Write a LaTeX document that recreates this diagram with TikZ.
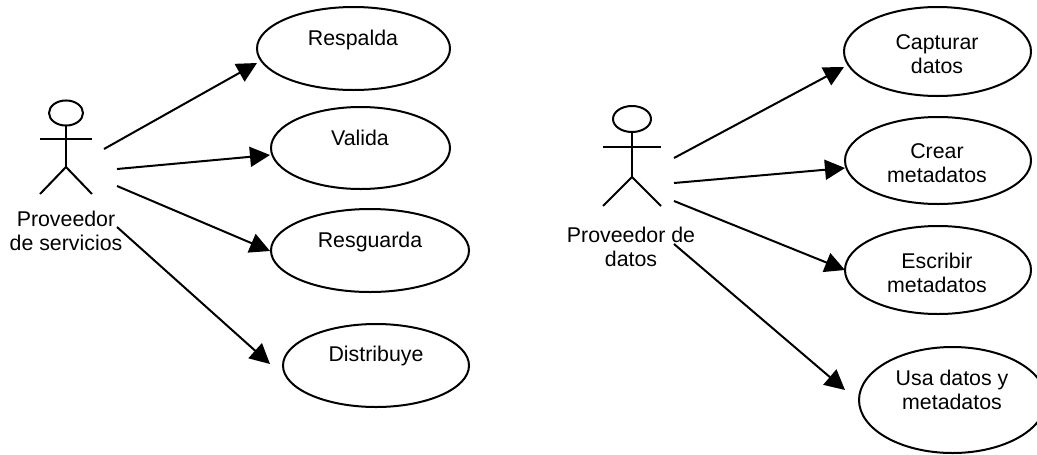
\documentclass[tikz,border=0pt]{standalone}
\usepackage{fontspec}
\setmainfont{Liberation Sans}
\usetikzlibrary{arrows.meta,shapes.geometric}
\tikzset{
 uc/.style={draw,ellipse,line width=1.5pt,inner sep=0pt},
 lab/.style={align=center,font=\fontsize{16}{18}\selectfont,inner sep=0pt},
 arr/.style={line width=1.5pt,-{Triangle[length=15pt,width=15pt]}},
 stick/.style={line width=1.5pt}
}
\newcommand{\actor}[9]{% cx, head cy, rx(pt), ry(pt), neck, arm y, hip, feet, half-span
 \draw[stick] (#1,-#2) circle[x radius=#3pt,y radius=#4pt];
 \draw[stick] (#1,-#5) -- (#1,-#7);
 \draw[stick] ({#1-#9},-#6) -- ({#1+#9},-#6);
 \draw[stick] ({#1-#9},-#8) -- (#1,-#7) -- ({#1+#9},-#8);
}
\begin{document}
\begin{tikzpicture}[x=0.75pt,y=0.75pt]
\useasboundingbox (0,0) rectangle (1037,-454);
\actor{66}{113}{12.75}{9.4}{125}{139}{167}{194}{26}
\actor{632}{119}{14.25}{9.75}{132}{147}{177}{206}{29}
\node[lab] (pa) at (66,-231) {Proveedor\\de servicios};
\node[lab] (pb) at (631,-246.5) {Proveedor de\\datos};
\coordinate (a1) at (104,-149);
\coordinate (a2) at (117,-169);
\coordinate (a3) at (117,-186);
\coordinate (a4) at (117,-227);
\coordinate (b1) at (674,-158);
\coordinate (b2) at (674,-183);
\coordinate (b3) at (674,-201);
\coordinate (b4) at (674,-244);
\coordinate (ta1) at (257,-63);
\coordinate (ta2) at (270,-155);
\coordinate (ta3) at (270,-251);
\coordinate (ta4) at (270,-364);
\coordinate (tb1) at (844,-67);
\coordinate (tb2) at (845,-168);
\coordinate (tb3) at (845,-270);
\coordinate (tb4) at (845,-390);
\node[uc,minimum width=144.75pt,minimum height=62.25pt] (u1) at (353.5,-48.5) {};
\node[lab] at (353,-40) {Respalda};
\node[uc,minimum width=134.25pt,minimum height=61.5pt] (u2) at (360.5,-148) {};
\node[lab] at (360,-138) {Valida};
\node[uc,minimum width=148.5pt,minimum height=62.25pt] (u3) at (370,-250.5) {};
\node[lab] at (370,-242) {Resguarda};
\node[uc,minimum width=139.5pt,minimum height=62.25pt] (u4) at (376,-365.5) {};
\node[lab] at (376,-356) {Distribuye};
\node[uc,minimum width=140.25pt,minimum height=66.75pt] (v1) at (937.5,-51.5) {};
\node[lab] at (937,-54) {Capturar\\datos};
\node[uc,minimum width=139.5pt,minimum height=65.25pt] (v2) at (938,-160.5) {};
\node[lab] at (937,-163) {Crear\\metadatos};
\node[uc,minimum width=139.5pt,minimum height=66pt] (v3) at (938,-270) {};
\node[lab] at (937,-272.5) {Escribir\\metadatos};
\node[uc,minimum width=140.25pt,minimum height=79.5pt] (v4) at (952.5,-400) {};
\node[lab] at (952,-390) {Usa datos y\\metadatos};
\draw[arr] (a1) -- (ta1);
\draw[arr] (a2) -- (ta2);
\draw[arr] (a3) -- (ta3);
\draw[arr] (a4) -- (ta4);
\draw[arr] (b1) -- (tb1);
\draw[arr] (b2) -- (tb2);
\draw[arr] (b3) -- (tb3);
\draw[arr] (b4) -- (tb4);
\end{tikzpicture}
\end{document}
